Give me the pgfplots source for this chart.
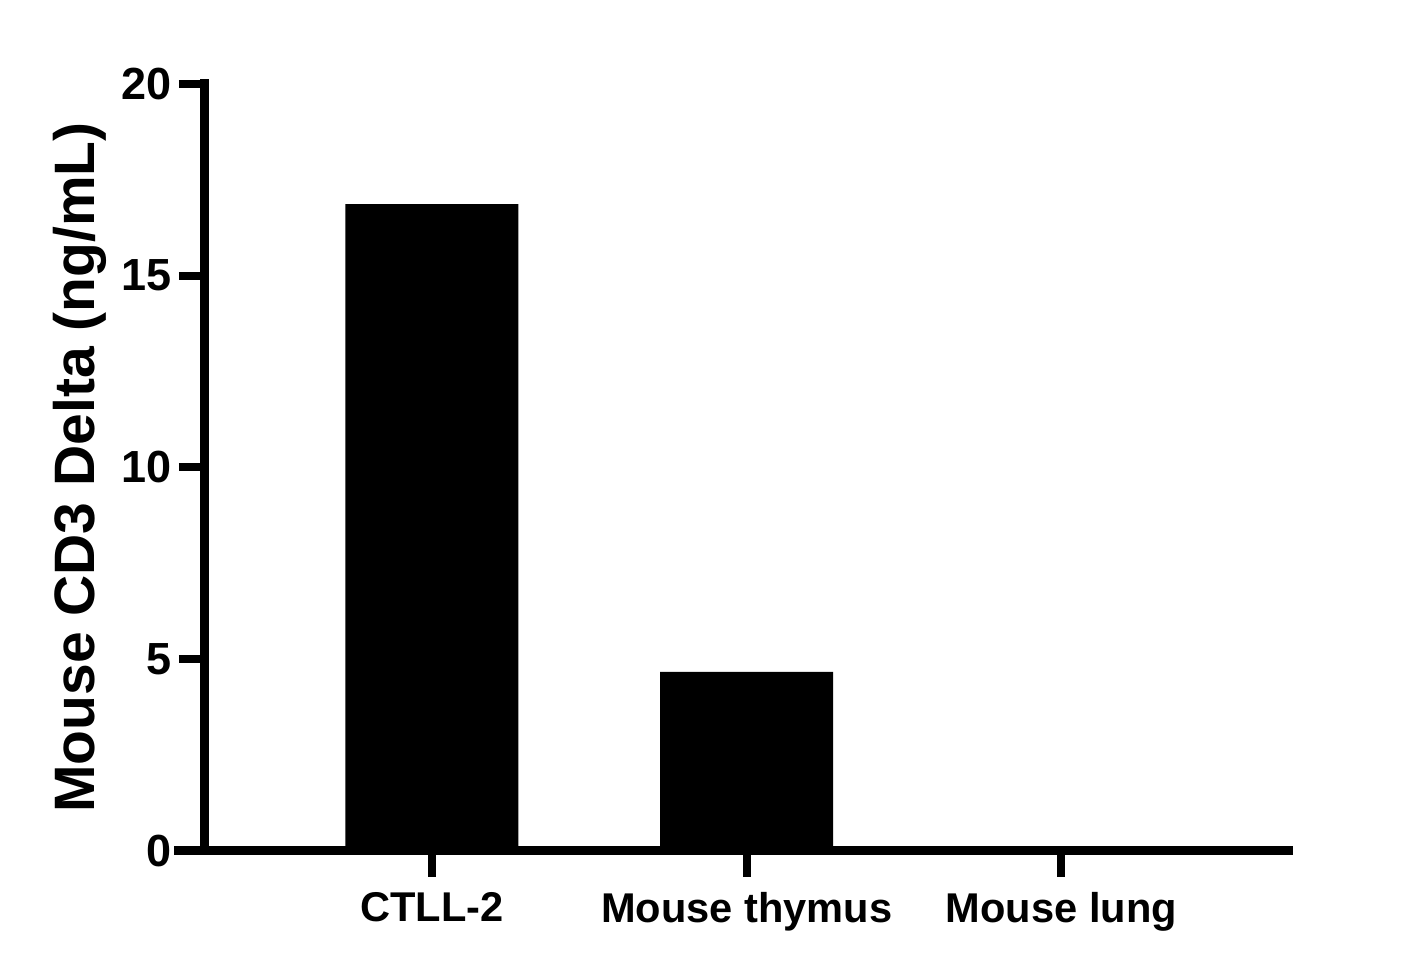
\documentclass[border=0pt]{standalone}
\usepackage{fontspec}
\setmainfont{Liberation Sans}
\usepackage{pgfplots}
\pgfplotsset{compat=1.18}
\begin{document}
\begin{tikzpicture}
\path[use as bounding box] (-102.5pt,-60.5pt) rectangle (609.5pt,425.5pt);
\begin{axis}[
  at={(0,0)}, anchor=south west,
  scale only axis, width=541.5pt, height=383.5pt,
  xmin=-0.721, xmax=2.72, ymin=0, ymax=20,
  axis lines=left,
  axis line style={-, line width=4.5pt, line cap=rect},
  x axis line style={shorten <=-13pt},
  xtick={0,1,2},
  xticklabels={CTLL-2, Mouse thymus, Mouse lung},
  ytick={0,5,10,15,20},
  tick align=outside,
  major tick length=13pt,
  tick style={line width=4pt, black},
  /pgf/number format/assume math mode=true,
  yticklabel style={font=\bfseries\fontsize{22.5}{26}\selectfont},
  xticklabel style={font=\bfseries\fontsize{20.8}{24}\selectfont, yshift=-4pt},
  every axis y label/.style={at={(axis description cs:0,0.5)}, xshift=-62.5pt, anchor=center, rotate=90},
  ylabel={\bfseries\fontsize{28.5}{32}\selectfont Mouse CD3 Delta (ng/mL)},
]
\addplot[ybar, bar width=86.5pt, fill=black, draw=none] coordinates {(0,16.87) (1,4.67) (2,0)};
\end{axis}
\end{tikzpicture}
\end{document}
